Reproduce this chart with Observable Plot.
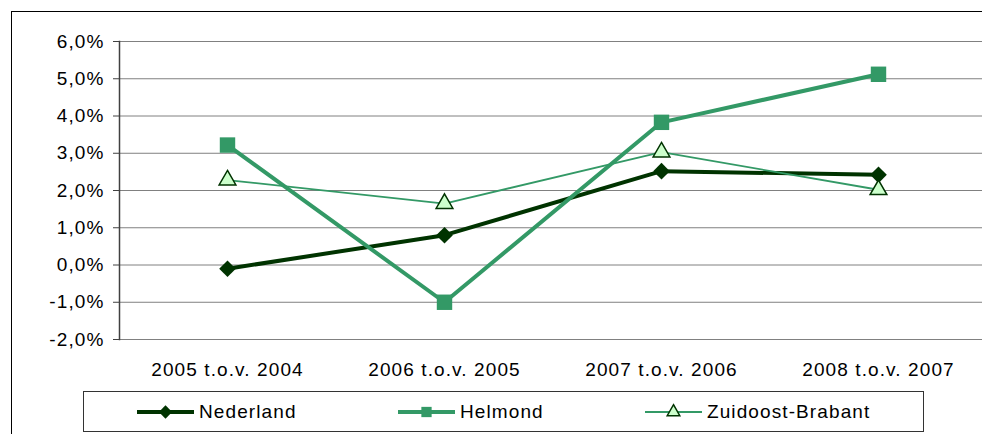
<!DOCTYPE html>
<html><head><meta charset="utf-8">
<script src="https://cdn.jsdelivr.net/npm/d3@7"></script>
<script src="https://cdn.jsdelivr.net/npm/@observablehq/plot@0.6"></script>
<style>
body{margin:0;width:982px;height:434px;overflow:hidden;position:relative;background:#fff;font-family:"Liberation Sans",Arial,sans-serif;}
#frame{position:absolute;left:11px;top:11px;width:1000px;height:500px;border:1px solid #000;box-sizing:border-box}
#chart{position:absolute;left:0;top:0}
#legend{position:absolute;left:83px;top:391px;width:841px;height:41px;border:1px solid #333;box-sizing:border-box;background:#fff}
.item{position:absolute;top:0;height:39px;display:flex;align-items:center;font-size:19px;letter-spacing:1.1px;color:#000}
.item svg{margin-right:5px}
</style></head><body>
<div id="frame"></div><div id="chart"></div><div id="legend"></div>
<script>
const categories = ["2005 t.o.v. 2004", "2006 t.o.v. 2005", "2007 t.o.v. 2006", "2008 t.o.v. 2007"];
const nederland = [-0.1, 0.8, 2.52, 2.42];
const helmond = [3.22, -1.0, 3.83, 5.12];
const zuidoost = [2.28, 1.65, 3.03, 2.02];
const seriesNames = ["Nederland", "Helmond", "Zuidoost-Brabant"];
const yTicks = [-2, -1, 0, 1, 2, 3, 4, 5, 6];

const styles = {
  "Nederland": {stroke: "#003300", width: 4, symbol: "diamond2", r: 7.5, fill: "#003300", mstroke: "none", lr: 6, lsym: d3.symbolDiamond2},
  "Helmond": {stroke: "#339966", width: 4, symbol: "square", r: 8.7, fill: "#339966", mstroke: "none", lr: 5.8, lsym: d3.symbolSquare},
  "Zuidoost-Brabant": {stroke: "#339966", width: 1.8, symbol: "triangle2", r: 8, fill: "#ccffcc", mstroke: "#003300", lr: 6, lsym: d3.symbolTriangle2}
};
const valuesBySeries = {"Nederland": nederland, "Helmond": helmond, "Zuidoost-Brabant": zuidoost};
const rows = seriesNames.flatMap(s => categories.map((c, i) => ({series: s, cat: c, value: valuesBySeries[s][i]})));
const fmt = d => d.toFixed(1).replace(".", ",") + "%";

const marks = [
  Plot.ruleY(yTicks, {stroke: "#808080", strokeWidth: 1}),
  Plot.axisY({ticks: yTicks, tickSize: 6, tickPadding: 9, tickFormat: fmt, fontSize: 19, stroke: "#404040", fill: "#000"}),
  Plot.axisX({tickSize: 0, tickPadding: 23, fontSize: 19, fill: "#000"}),
  Plot.frame({anchor: "left", stroke: "#404040", strokeWidth: 1.5})
];
for (const s of seriesNames) {
  const st = styles[s];
  const data = rows.filter(d => d.series === s);
  marks.push(Plot.line(data, {x: "cat", y: "value", stroke: st.stroke, strokeWidth: st.width, strokeLinejoin: "round"}));
  marks.push(Plot.dot(data, {x: "cat", y: "value", symbol: () => st.symbol, r: st.r, fill: st.fill, stroke: st.mstroke, strokeWidth: 1.5}));
}

const chart = Plot.plot({
  width: 982, height: 385,
  marginLeft: 119, marginRight: 0, marginTop: 41, marginBottom: 46,
  style: {fontFamily: '"Liberation Sans", Arial, sans-serif', letterSpacing: "1.1px", background: "transparent", overflow: "visible"},
  x: {type: "point", domain: categories, range: [227, 878], padding: 0, label: null},
  y: {domain: [-2, 6], label: null},
  symbol: {type: "identity"},
  marks
});
document.getElementById("chart").appendChild(chart);

// legend
const legendLeft = [53, 314, 561];
const legend = d3.select("#legend");
seriesNames.forEach((s, i) => {
  const st = styles[s];
  const item = legend.append("div").attr("class", "item").style("left", legendLeft[i] + "px");
  const svg = item.append("svg").attr("width", 57).attr("height", 18);
  svg.append("line").attr("x1", 0).attr("x2", 57).attr("y1", 9).attr("y2", 9)
    .attr("stroke", st.stroke).attr("stroke-width", st.width);
  const size = Math.PI * st.lr * st.lr;
  svg.append("path").attr("transform", "translate(28.5,9)")
    .attr("d", d3.symbol(st.lsym, size)())
    .attr("fill", st.fill).attr("stroke", st.mstroke).attr("stroke-width", 1.5);
  item.append("span").text(s);
});
</script>
</body></html>
